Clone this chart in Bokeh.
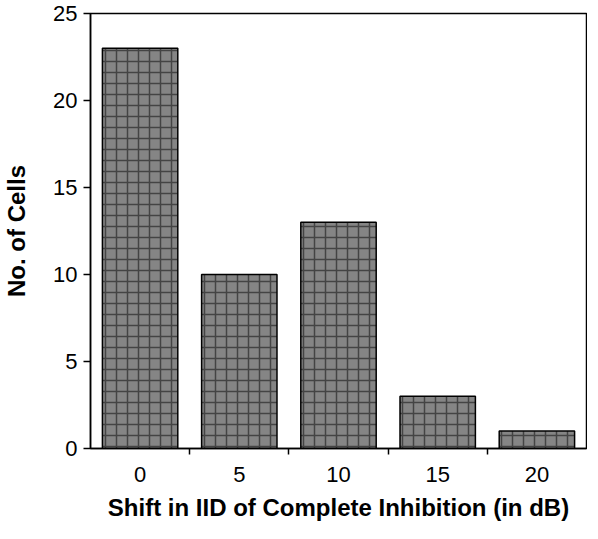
from bokeh.plotting import figure
from bokeh.models import FixedTicker, Range1d
from bokeh.embed import file_html
from bokeh.resources import INLINE

shifts = [0, 5, 10, 15, 20]
cells = [23, 10, 13, 3, 1]
x_ticks = [0, 5, 10, 15, 20]
y_ticks = [0, 5, 10, 15, 20, 25]

p = figure(frame_width=496, frame_height=435, output_backend="svg", toolbar_location=None,
           x_range=Range1d(-2.5, 22.5), y_range=Range1d(0, 25),
           min_border_left=85, min_border_top=13, min_border_bottom=75, min_border_right=1)

p.vbar(x=shifts, top=cells, width=3.8, bottom=0,
       fill_color="#858585", line_color="black", line_width=1.5,
       hatch_pattern="+", hatch_color="#333333", hatch_weight=1.5, hatch_scale=11, hatch_alpha=0.8)

p.grid.visible = False
p.outline_line_color = "black"
p.outline_line_width = 1.5
p.background_fill_color = "white"
p.border_fill_color = "white"

font = "Liberation Sans"
xa = p.xaxis[0]
xa.ticker = FixedTicker(ticks=x_ticks, minor_ticks=[2.5, 7.5, 12.5, 17.5])
xa.major_tick_line_color = None
xa.minor_tick_in = 0
xa.minor_tick_out = 6
xa.minor_tick_line_width = 1.5
xa.axis_line_width = 1.5
xa.major_label_text_font = font
xa.major_label_text_font_size = "22px"
xa.major_label_text_color = "black"
xa.major_label_standoff = 12
xa.axis_label = "Shift in IID of Complete Inhibition (in dB)"
xa.axis_label_text_font = font
xa.axis_label_text_font_style = "bold"
xa.axis_label_text_font_size = "24px"
xa.axis_label_text_color = "black"
xa.axis_label_standoff = 9

ya = p.yaxis[0]
ya.ticker = FixedTicker(ticks=y_ticks, minor_ticks=[])
ya.major_tick_in = 0
ya.major_tick_out = 7
ya.major_tick_line_width = 1.5
ya.axis_line_width = 1.5
ya.major_label_text_font = font
ya.major_label_text_font_size = "22px"
ya.major_label_text_color = "black"
ya.major_label_standoff = 6
ya.axis_label = "No. of Cells"
ya.axis_label_text_font = font
ya.axis_label_text_font_style = "bold"
ya.axis_label_text_font_size = "24px"
ya.axis_label_text_color = "black"
ya.axis_label_standoff = 20

open("out.html", "w").write(file_html(p, INLINE))
